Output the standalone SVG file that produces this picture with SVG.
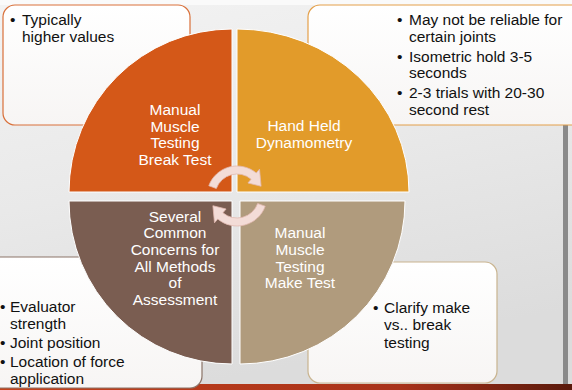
<svg xmlns="http://www.w3.org/2000/svg" width="572" height="390" viewBox="0 0 572 390">
<defs>
<linearGradient id="bg" x1="0" y1="0" x2="0.3" y2="1">
<stop offset="0" stop-color="#f3f3f3"/>
<stop offset="0.5" stop-color="#e9e9e9"/>
<stop offset="1" stop-color="#dcdcdc"/>
</linearGradient>
<linearGradient id="strip" x1="0" y1="0" x2="1" y2="0">
<stop offset="0" stop-color="#c4421c"/>
<stop offset="0.7" stop-color="#a8321a"/>
<stop offset="1" stop-color="#5a1a0c"/>
</linearGradient>
<linearGradient id="boxfill" x1="0" y1="0" x2="0" y2="1">
<stop offset="0" stop-color="#ffffff"/>
<stop offset="1" stop-color="#f7f5f4"/>
</linearGradient>
</defs>
<style>
.box{fill:url(#boxfill);stroke-width:1.2}
.q{stroke:#ffffff;stroke-width:1}
.qt{font-family:"Liberation Sans",Arial,sans-serif;font-size:15.5px;fill:#ffffff;text-anchor:middle}
.bt{font-family:"Liberation Sans",Arial,sans-serif;font-size:15.5px;fill:#111111}
.arr{fill:#f3dcd7;stroke:#e2b9b0;stroke-width:0.8}
</style>
<rect x="0" y="0" width="572" height="390" fill="url(#bg)"/>
<rect x="0" y="0" width="572" height="5" fill="#fafafa"/>
<rect x="563" y="125" width="5" height="260" fill="#8a8a8a"/>
<rect x="0" y="384" width="572" height="6" fill="url(#strip)"/>

<g id="box-break">
<rect class="box" x="3" y="5" width="187" height="120" rx="12" stroke="#d9703a"/>
<text class="bt"><tspan x="10" y="25">•</tspan><tspan x="22" y="25">Typically</tspan><tspan x="22" y="42">higher values</tspan></text>
</g>
<g id="box-hhd">
<rect class="box" x="308" y="5" width="280" height="120" rx="12" stroke="#e4a04a"/>
<text class="bt"><tspan x="397" y="25">•</tspan><tspan x="409" y="25">May not be reliable for</tspan><tspan x="409" y="42">certain joints</tspan><tspan x="397" y="62">•</tspan><tspan x="409" y="62">Isometric hold 3-5</tspan><tspan x="409" y="78">seconds</tspan><tspan x="397" y="98">•</tspan><tspan x="409" y="98">2-3 trials with 20-30</tspan><tspan x="409" y="115">second rest</tspan></text>
</g>
<g id="box-concerns">
<rect class="box" x="-12" y="257" width="214" height="131" rx="12" stroke="#8b7468"/>
<text class="bt"><tspan x="0" y="312">•</tspan><tspan x="10" y="312">Evaluator</tspan><tspan x="10" y="329">strength</tspan><tspan x="0" y="348">•</tspan><tspan x="10" y="348">Joint position</tspan><tspan x="0" y="367">•</tspan><tspan x="10" y="367">Location of force</tspan><tspan x="10" y="384">application</tspan></text>
</g>
<g id="box-make">
<rect class="box" x="308" y="262" width="189" height="121" rx="12" stroke="#c9b48f"/>
<text class="bt"><tspan x="373" y="313">•</tspan><tspan x="384" y="313">Clarify make</tspan><tspan x="384" y="330">vs.. break</tspan><tspan x="384" y="348">testing</tspan></text>
</g>

<g id="q-break">
<path class="q" d="M232,192 L69,192 A163,163 0 0 1 232,29 Z" fill="#d45818"/>
<text class="qt"><tspan x="175" y="115">Manual</tspan><tspan x="175" y="132">Muscle</tspan><tspan x="175" y="148">Testing</tspan><tspan x="175" y="165">Break Test</tspan></text>
</g>
<g id="q-hhd">
<path class="q" d="M237,192 L237,29 A172,163 0 0 1 409,192 Z" fill="#e29b2a"/>
<text class="qt"><tspan x="304" y="131">Hand Held</tspan><tspan x="304" y="148">Dynamometry</tspan></text>
</g>
<g id="q-concerns">
<path class="q" d="M232,201 L232,364 A163,163 0 0 1 69,201 Z" fill="#7a5d51"/>
<text class="qt"><tspan x="175" y="222">Several</tspan><tspan x="175" y="238">Common</tspan><tspan x="175" y="255">Concerns for</tspan><tspan x="175" y="272">All Methods</tspan><tspan x="175" y="288">of</tspan><tspan x="175" y="305">Assessment</tspan></text>
</g>
<g id="q-make">
<path class="q" d="M240,201 L405,201 A165,163 0 0 1 240,364 Z" fill="#b09b7d"/>
<text class="qt"><tspan x="300" y="238">Manual</tspan><tspan x="300" y="255">Muscle</tspan><tspan x="300" y="272">Testing</tspan><tspan x="300" y="288">Make Test</tspan></text>
</g>

<g id="connectors">
<path class="arr" d="M208.81,185.74 A30,30 0 0 1 256.28,173.02 L259.50,169.19 L261.11,186.26 L247.93,182.98 L251.14,179.15 A22,22 0 0 0 216.33,188.48 Z"/>
<path class="arr" d="M265.19,206.26 A30,30 0 0 1 217.72,218.98 L214.50,222.81 L212.89,205.74 L226.07,209.02 L222.86,212.85 A22,22 0 0 0 257.67,203.52 Z"/>
</g>
</svg>
